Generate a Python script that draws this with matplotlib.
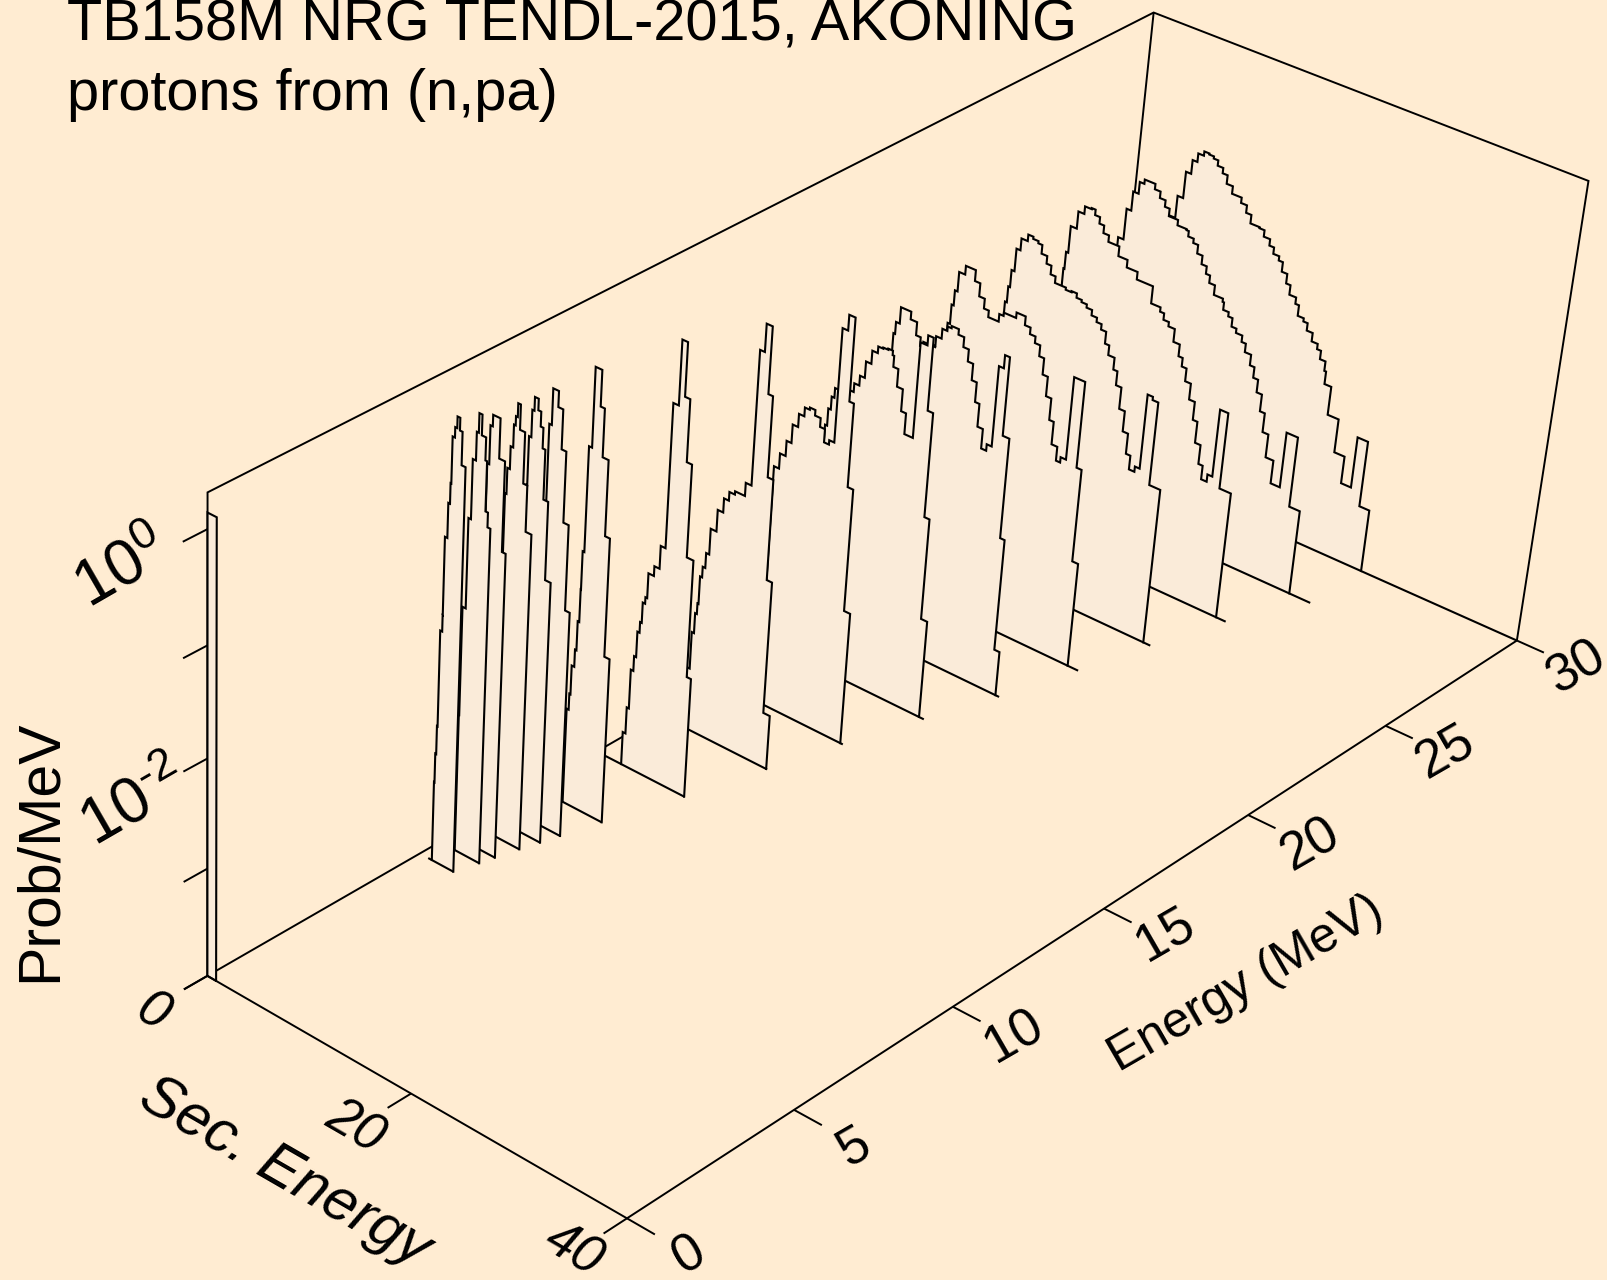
import numpy as np
import matplotlib
matplotlib.use('Agg')
import matplotlib.pyplot as plt

plt.rcParams['font.family'] = ['Liberation Sans', 'DejaVu Sans']
plt.rcParams['mathtext.fontset'] = 'custom'
plt.rcParams['mathtext.rm'] = 'Liberation Sans'
plt.rcParams['mathtext.it'] = 'Liberation Sans:italic'

# incident energies (MeV) of the spectra, far to near
incident = [30, 28.04, 26.03, 24.01, 22.03, 19.93, 18.04, 16.0, 14.07, 11.99, 9.99, 8.97, 8.48, 7.98, 7.38, 6.99, 6.37, 0]

# secondary energy bin edges (MeV) and log10(Prob/MeV) per bin
s30 = [3.60, 4.08, 4.62, 5.12, 5.58, 6.12, 6.61, 7.06, 7.50, 8.04, 8.52, 9.12, 10.05, 10.62, 11.13, 12.01, 12.50, 13.11, 13.56, 14.13, 14.53,
       15.06, 15.48, 16.13, 16.48, 17.06, 17.47, 18.04, 18.62, 19.00, 19.53, 19.70, 20.35, 21.40, 22.38, 23.33, 24.32, 25.27]
p30 = [-1.46, -1.25, -1.00, -0.87, -0.79, -0.75, -0.76, -0.78, -0.83, -0.88, -0.96, -1.03, -1.08, -1.15, -1.23, -1.24, -1.30, -1.36, -1.42, -1.46,
       -1.55, -1.64, -1.73, -1.79, -1.89, -1.92, -1.99, -2.07, -2.12, -2.20, -2.29, -2.41, -2.68, -3.00, -3.26, -2.77, -3.40]
s28 = [3.60, 4.12, 4.57, 5.09, 5.53, 6.56, 7.11, 7.66, 8.12, 9.01, 9.89, 10.11, 10.64, 11.11, 11.62, 12.12, 12.52, 13.07, 13.94, 14.08, 14.61,
       15.02, 15.49, 16.10, 16.51, 17.11, 17.55, 18.02, 18.53, 19.00, 19.56, 20.31, 21.19, 22.27, 23.28]
p28 = [-1.39, -1.10, -0.92, -0.81, -0.77, -0.82, -0.88, -0.94, -1.01, -1.06, -1.07, -1.12, -1.16, -1.24, -1.32, -1.39, -1.46, -1.55, -1.58, -1.65,
       -1.69, -1.77, -1.81, -1.87, -1.95, -2.05, -2.15, -2.27, -2.43, -2.61, -2.83, -3.05, -2.52, -3.19]
s26 = [3.58, 3.66, 3.76, 3.97, 4.55, 5.12, 5.76, 6.13, 6.61, 7.07, 7.61, 8.67, 9.55, 10.59, 12.14, 13.04, 13.43, 13.95, 14.56, 15.17, 15.57,
       16.03, 16.58, 17.13, 17.57, 18.10, 18.51, 19.04, 19.50, 20.28, 21.37]
p26 = [-1.58, -1.40, -1.24, -0.99, -0.83, -0.76, -0.75, -0.80, -0.86, -0.93, -0.99, -1.08, -1.15, -1.22, -1.38, -1.42, -1.48, -1.52, -1.64, -1.75,
       -1.83, -1.95, -2.10, -2.27, -2.47, -2.65, -2.78, -2.71, -2.07, -2.79]
s24 = [3.51, 3.69, 3.86, 4.14, 4.52, 5.12, 5.61, 6.12, 6.51, 7.06, 7.53, 8.01, 8.58, 9.06, 9.62, 10.13, 10.63, 11.14, 11.67, 12.19, 12.67,
       13.16, 13.57, 14.17, 14.56, 15.08, 15.62, 16.13, 16.56, 17.08, 17.53, 18.03, 18.57, 19.62]
p24 = [-1.43, -1.28, -1.12, -0.91, -0.80, -0.74, -0.76, -0.78, -0.86, -0.93, -1.01, -1.07, -1.07, -1.09, -1.08, -1.12, -1.14, -1.17, -1.22, -1.26,
       -1.31, -1.42, -1.51, -1.62, -1.75, -1.95, -2.14, -2.33, -2.46, -2.41, -1.71, -1.74, -2.52]
s22 = [3.35, 3.58, 3.78, 4.03, 4.61, 5.57, 6.09, 6.63, 7.10, 8.10, 8.51, 9.68, 10.16, 10.55, 11.09, 11.62, 12.13, 12.60, 13.10, 13.61, 14.04,
       14.59, 14.99, 15.50, 16.54, 17.02, 17.58]
p22 = [-1.35, -1.17, -1.03, -0.85, -0.77, -0.87, -0.99, -1.08, -1.14, -1.07, -1.04, -0.99, -0.99, -1.07, -1.13, -1.19, -1.29, -1.44, -1.62, -1.82,
       -2.03, -2.16, -2.11, -1.34, -2.14, -3.01]
s20 = [3.65, 3.83, 3.99, 4.35, 5.34, 5.96, 6.41, 6.69, 7.81, 7.83, 8.35, 8.82, 9.19, 9.87, 10.42, 10.94, 11.45, 11.93, 12.35, 12.87, 13.35,
       13.82, 14.28, 14.74, 15.37, 15.80, 16.30]
p20 = [-1.30, -1.12, -1.01, -0.86, -0.93, -1.05, -1.13, -1.08, -1.07, -0.98, -0.89, -0.85, -0.83, -0.88, -0.97, -1.08, -1.23, -1.41, -1.62, -1.80,
       -1.74, -1.00, -0.88, -1.60, -2.53, -3.58]
s18 = [3.09, 3.29, 3.53, 3.79, 5.20, 5.56, 6.04, 6.50, 7.01, 7.53, 8.00, 8.47, 8.91, 9.06, 9.54, 10.10, 10.57, 11.38, 12.02, 12.53, 13.05, 13.54, 14.13]
p18 = [-1.72, -1.56, -1.44, -1.35, -1.31, -1.23, -1.14, -0.99, -0.87, -0.81, -0.80, -0.79, -0.83, -0.93, -1.09, -1.29, -1.48, -0.61, -0.52, -1.18, -2.14, -3.08]
s16 = [4.11, 4.60, 5.14, 5.61, 6.13, 6.64, 7.11, 7.63, 8.17, 8.64, 9.11, 9.59, 10.11, 10.70, 11.13, 11.66, 12.25]
p16 = [-1.75, -1.61, -1.47, -1.30, -1.18, -1.10, -1.08, -1.13, -1.21, -1.33, -1.29, -0.26, -0.12, -0.87, -1.63, -2.76]
s14 = [2.35, 2.64, 2.86, 3.03, 3.13, 3.33, 3.58, 3.88, 4.44, 4.97, 5.44, 5.97, 6.92, 7.47, 7.92, 8.49, 8.93, 9.47, 9.98, 10.61]
p14 = [-3.42, -3.07, -2.88, -2.78, -2.52, -2.42, -2.28, -2.04, -1.84, -1.71, -1.63, -1.60, -1.48, -0.26, -0.01, -0.61, -1.34, -2.26, -3.49]
s12 = [2.45, 2.72, 2.93, 3.18, 3.38, 3.59, 3.75, 3.98, 4.15, 4.68, 5.18, 5.64, 6.16, 6.69, 7.19, 7.69, 8.33, 8.74]
p12 = [-3.69, -3.44, -3.07, -2.93, -2.69, -2.59, -2.40, -2.34, -2.11, -2.02, -1.81, -0.50, 0.08, -0.40, -0.96, -1.80, -2.88]
s10 = [2.79, 2.99, 3.10, 3.35, 3.49, 3.64, 3.67, 3.83, 4.12, 4.75, 5.15, 5.72, 6.19, 6.70]
p10 = [-3.11, -2.96, -2.69, -2.53, -2.26, -1.96, -1.61, -0.66, 0.05, -0.27, -0.70, -1.38, -2.46]
s09 = [2.97, 3.08, 3.32, 3.86, 4.33, 4.78, 5.29, 5.74]
p09 = [-1.05, -0.34, -0.02, -0.16, -0.51, -1.14, -1.91]
s085 = [2.66, 2.71, 2.93, 3.13, 3.49, 3.77, 4.03, 4.29, 4.75, 5.29]
p085 = [-0.82, -0.39, -0.15, -0.03, -0.13, -0.26, -0.44, -0.88, -1.58]
s08 = [2.17, 2.31, 2.55, 2.79, 2.95, 3.12, 3.37, 3.86, 4.25, 4.81]
p08 = [-0.84, -0.61, -0.41, -0.21, -0.13, -0.01, -0.23, -0.68, -1.09]
s075 = [2.25, 2.44, 2.66, 3.36, 3.92, 4.28]
p075 = [-0.48, -0.14, -0.04, -0.39, -1.19]
s07 = [1.50, 1.54, 1.85, 2.09, 2.39, 2.58, 2.87, 3.28, 3.44, 3.68, 3.96]
p07 = [-2.72, -1.73, -0.92, -0.39, -0.14, 0.03, -0.15, -0.35, -0.79, -0.92]
s065 = [1.21, 1.26, 1.35, 1.41, 1.60, 1.61, 1.84, 2.00, 2.07, 2.29, 2.48, 2.74, 2.99, 3.37]
p065 = [-3.26, -2.99, -2.73, -1.85, -1.70, -1.00, -0.69, -0.51, -0.10, -0.01, 0.09, -0.02, -0.31]
s00 = [0.0, 0.88]
p00 = [0.14]

sec_edges = [s30, s28, s26, s24, s22, s20, s18, s16, s14, s12, s10, s09, s085, s08, s075, s07, s065, s00]
log_prob = [p30, p28, p26, p24, p22, p20, p18, p16, p14, p12, p10, p09, p085, p08, p075, p07, p065, p00]

# where the line along the floor stops after and starts before each spectrum
tail_end = [40, 25.3, 22.3, 20.3, 18.6, 16.66, 14.6, 12.5, 10.7, 8.8, 6.7, 5.75, 5.3, 4.8, 4.3, 4.0, 3.4, 0.88]
tail_start = [0, 0, 0, 0, 0, 0, 0, 0, 0, 0, 0, 0, 0, 0, 0, 0, 0.85, 0]

energy_ticks = [0, 5, 10, 15, 20, 25, 30]
sec_ticks = [0, 20, 40]
log_ticks = [0, -1, -2, -3, -4]
e_max, s_max = 30, 40
z_min, z_max = -4, 0.31

bg = '#FFECD2'
fill = '#FAEBD9'

# perspective view of the box, (energy, sec. energy, log prob) -> pixel
view = np.array([[37.3621883, 10.1308691, -2.8268693, 207.5380712],
                 [-15.8616492, 4.5729709, -125.1734003, 529.0871188],
                 [0.0051663, -0.0014969, -0.013813, 1.0]])

def proj(pts):
    v = view @ np.column_stack([np.array(pts, float), np.ones(len(pts))]).T
    return v[0] / v[2], v[1] / v[2]

def line(pts, lw=1.4, z=1):
    x, y = proj(pts)
    ax.plot(x, y, color='k', lw=lw, zorder=z, solid_capstyle='butt', solid_joinstyle='miter')

fig = plt.figure(figsize=(16.07, 12.8), dpi=100, facecolor=bg)
ax = fig.add_axes([0, 0, 1, 1])
ax.set_xlim(0, 1607)
ax.set_ylim(1280, 0)
ax.axis('off')

# back of the box
line([(0, 0, z_min), (0, 0, z_max), (e_max, 0, z_max), (e_max, s_max, z_max), (e_max, s_max, z_min)])
line([(0, 0, z_min), (e_max, 0, z_min), (e_max, 0, z_max)])

# spectra, far ones first so near ones hide them
for i, e in enumerate(incident):
    s, p = sec_edges[i], log_prob[i]
    pts = [(e, s[0], z_min)]
    for k in range(len(p)):
        pts += [(e, s[k], p[k]), (e, s[k + 1], p[k])]
    pts.append((e, s[-1], z_min))
    x, y = proj(pts)
    ax.fill(x, y, facecolor=fill, edgecolor='none', zorder=2 + i)
    ax.plot(x, y, color='k', lw=1.5, zorder=2 + i, solid_joinstyle='miter')
    line([(e, tail_start[i], z_min), (e, tail_end[i], z_min)], lw=1.5, z=2 + i)

# front of the box and ticks
line([(0, 0, z_min), (0, s_max, z_min), (e_max, s_max, z_min)], z=50)
for t in energy_ticks:
    line([(t, s_max, z_min), (t, s_max + 2.5, z_min)], z=50)
for t in sec_ticks:
    line([(0, t, z_min), (-0.68, t, z_min)], z=50)
for t in log_ticks:
    line([(0, 0, t), (-0.68, 0, t)], z=50)

# titles
ax.text(67, 41, 'TB158M NRG TENDL-2015, AKONING', fontsize=41.6, va='baseline', ha='left', clip_on=False)
ax.text(67, 110, 'protons from (n,pa)', fontsize=41.6, va='baseline', ha='left')

# axis labels
lab = dict(ha='center', va='center', rotation_mode='anchor')
ax.text(40, 851, 'Prob/MeV', fontsize=42.5, rotation=90, **lab)
ax.text(285, 1173, 'Sec. Energy', fontsize=43, rotation=-30, style='italic', **lab)
ax.text(1246, 984, 'Energy (MeV)', fontsize=36, rotation=30, **lab)

# tick labels
for t, x, y in zip(sec_ticks, [153, 355, 573], [1013, 1127, 1250]):
    ax.text(x, y, str(t), fontsize=38, rotation=-30, style='italic', **lab)
for t, x, y in zip(energy_ticks, [689, 854, 1014, 1165, 1310, 1446, 1576], [1255, 1147, 1037, 935, 845, 753, 668]):
    ax.text(x, y, str(t), fontsize=38, rotation=30, **lab)
ax.text(122, 570, r'$\mathit{10^{0}}$', fontsize=46, rotation=30, **lab)
ax.text(134, 804, '$\\mathit{10^{\u20102}}$', fontsize=46, rotation=30, **lab)

fig.savefig('out.png', dpi=100, facecolor=bg)
